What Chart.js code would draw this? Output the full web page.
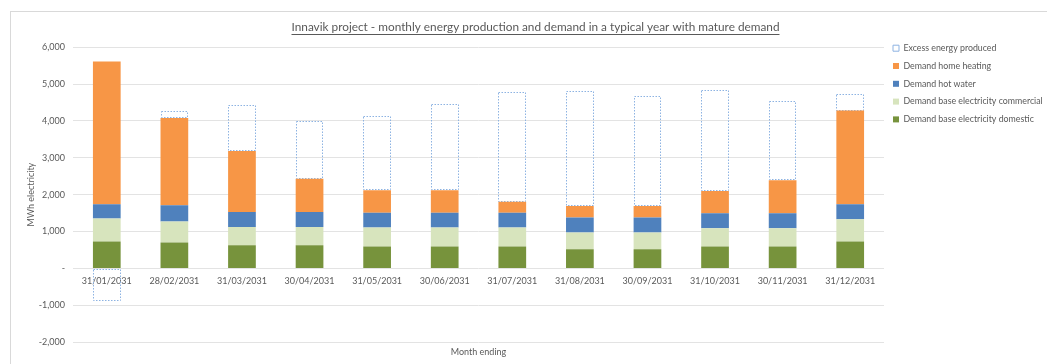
<!DOCTYPE html>
<html>
<head>
<meta charset="utf-8">
<script src="https://cdn.jsdelivr.net/npm/chart.js@4.4.1/dist/chart.umd.min.js"></script>
<style>
  html, body { margin: 0; padding: 0; background: #fff; }
  #wrap { position: relative; width: 1047px; height: 364px; }
</style>
</head>
<body>
<div id="wrap"><canvas id="c" width="1047" height="364"></canvas></div>
<script>
// Month-ending dates
const months = ['31/01/2031', '28/02/2031', '31/03/2031', '30/04/2031', '31/05/2031', '30/06/2031',
                '31/07/2031', '31/08/2031', '30/09/2031', '31/10/2031', '30/11/2031', '31/12/2031'];

// Monthly demand components and surplus, MWh electricity
const demandDomestic   = [730, 703, 632, 632, 595, 595, 595, 523, 523, 595, 595, 730];
const demandCommercial = [621, 567, 495, 495, 513, 513, 513, 450, 450, 495, 495, 605];
const demandHotWater   = [389, 443, 405, 405, 405, 405, 405, 405, 405, 405, 405, 405];
const demandHeating    = [3874, 2368, 1649, 900, 606, 606, 298, 317, 317, 605, 894, 2541];
const excessEnergy     = [-870, 200, 1243, 1560, 2008, 2351, 2965, 3127, 2991, 2740, 2151, 449];

// Y axis range
const yMin = -2000, yMax = 6000, yStep = 1000;

const FONT = 'Lato, "Open Sans", sans-serif';
const TEXT = '#595959';
const EXCESS_BORDER = '#8db3e2';
const LEFT_PAD = 24;   // offsets the full-width title so it sits right of centre

// Frame around the whole chart
const framePlugin = {
  id: 'frame',
  beforeDraw(chart) {
    const ctx = chart.ctx;
    ctx.save();
    ctx.strokeStyle = '#d9d9d9';
    ctx.lineWidth = 1;
    ctx.strokeRect(10.5, 11.5, 1100, 400);
    ctx.restore();
  }
};

// Dotted outline for the excess-energy bars (no fill)
const dottedOutline = {
  id: 'dottedOutline',
  afterDatasetDraw(chart, args) {
    const ds = chart.data.datasets[args.index];
    if (!ds.dotted) return;
    const ctx = chart.ctx;
    ctx.save();
    ctx.strokeStyle = EXCESS_BORDER;
    ctx.lineWidth = 1;
    ctx.setLineDash([1.5, 1.5]);
    args.meta.data.forEach(bar => {
      const p = bar.getProps(['x', 'y', 'base', 'width'], true);
      const l = Math.round(p.x - p.width / 2) + 0.5;
      const r = Math.round(p.x + p.width / 2) - 0.5;
      const t = Math.round(Math.min(p.y, p.base)) + 0.5;
      const b = Math.round(Math.max(p.y, p.base)) - 0.5;
      ctx.strokeRect(l, t, r - l, b - t);
    });
    ctx.restore();
  }
};

// Underline beneath the chart title
const titleUnderline = {
  id: 'titleUnderline',
  afterDraw(chart) {
    const tb = chart.titleBlock;
    if (!tb) return;
    const opts = chart.options.plugins.title;
    const ctx = chart.ctx;
    ctx.save();
    ctx.font = `${opts.font.size}px ${opts.font.family}`;
    const w = ctx.measureText(opts.text).width;
    const cx = (tb.left + tb.right) / 2;
    const cy = tb.top + opts.padding.top + opts.font.size * 1.2 / 2;
    const y = Math.round(cy + opts.font.size / 2 + 1) + 0.5;
    ctx.strokeStyle = TEXT;
    ctx.lineWidth = 1;
    ctx.beginPath();
    ctx.moveTo(cx - w / 2, y);
    ctx.lineTo(cx + w / 2, y);
    ctx.stroke();
    ctx.restore();
  }
};

new Chart(document.getElementById('c'), {
  type: 'bar',
  data: {
    labels: months,
    datasets: [
      { label: 'Demand base electricity domestic', data: demandDomestic, backgroundColor: '#77933c' },
      { label: 'Demand base electricity commercial', data: demandCommercial, backgroundColor: '#d7e4bd' },
      { label: 'Demand hot water', data: demandHotWater, backgroundColor: '#4f81bd' },
      { label: 'Demand home heating', data: demandHeating, backgroundColor: '#f79646' },
      { label: 'Excess energy produced', data: excessEnergy, backgroundColor: 'rgba(255,255,255,0)', dotted: true }
    ]
  },
  options: {
    responsive: false,
    animation: false,
    layout: { padding: { left: LEFT_PAD, right: 0, top: 0, bottom: 7 } },
    datasets: { bar: { barPercentage: 0.41, categoryPercentage: 1, borderWidth: 0 } },
    scales: {
      x: {
        stacked: true,
        position: { y: 0 },
        grid: { display: false, drawTicks: false },
        border: { display: false },
        ticks: { color: TEXT, font: { family: FONT, size: 9 }, padding: 7, maxRotation: 0, autoSkip: false }
      },
      x2: {
        type: 'category',
        position: 'bottom',
        grid: { display: false, drawTicks: false },
        border: { display: false },
        ticks: { display: false },
        title: { display: true, text: 'Month ending', color: TEXT, font: { family: FONT, size: 9 }, padding: { top: 4, bottom: 0 } }
      },
      y: {
        stacked: true,
        min: yMin,
        max: yMax,
        grid: { color: '#e3e3e3', drawTicks: false },
        border: { display: false },
        ticks: {
          stepSize: yStep,
          color: TEXT,
          font: { family: FONT, size: 9 },
          padding: 8,
          callback: v => v === 0 ? '-' : v.toLocaleString('en-US')
        },
        title: { display: true, text: 'MWh electricity', color: TEXT, font: { family: FONT, size: 9 }, padding: { top: 2, bottom: 0 } },
        afterFit(scale) { scale.width = 73 - LEFT_PAD; }
      }
    },
    plugins: {
      title: {
        display: true,
        text: 'Innavik project - monthly energy production and demand in a typical year with mature demand',
        color: TEXT,
        font: { family: FONT, size: 11.8, weight: 'normal' },
        padding: { top: 20, bottom: 13 }
      },
      legend: {
        position: 'right',
        align: 'start',
        reverse: true,
        maxWidth: 163,
        title: { display: true, text: ' ', font: { family: FONT, size: 9 }, padding: 12 },
        labels: {
          boxWidth: 6,
          boxHeight: 6,
          padding: 9,
          color: TEXT,
          font: { family: FONT, size: 8.8 },
          generateLabels(chart) {
            const items = Chart.defaults.plugins.legend.labels.generateLabels(chart);
            items.forEach(it => {
              if (chart.data.datasets[it.datasetIndex].dotted) {
                it.fillStyle = '#ffffff';
                it.strokeStyle = EXCESS_BORDER;
                it.lineWidth = 1;
              } else {
                it.lineWidth = 0;
              }
            });
            return items;
          }
        }
      },
      tooltip: { enabled: false }
    }
  },
  plugins: [framePlugin, dottedOutline, titleUnderline]
});
</script>
</body>
</html>
